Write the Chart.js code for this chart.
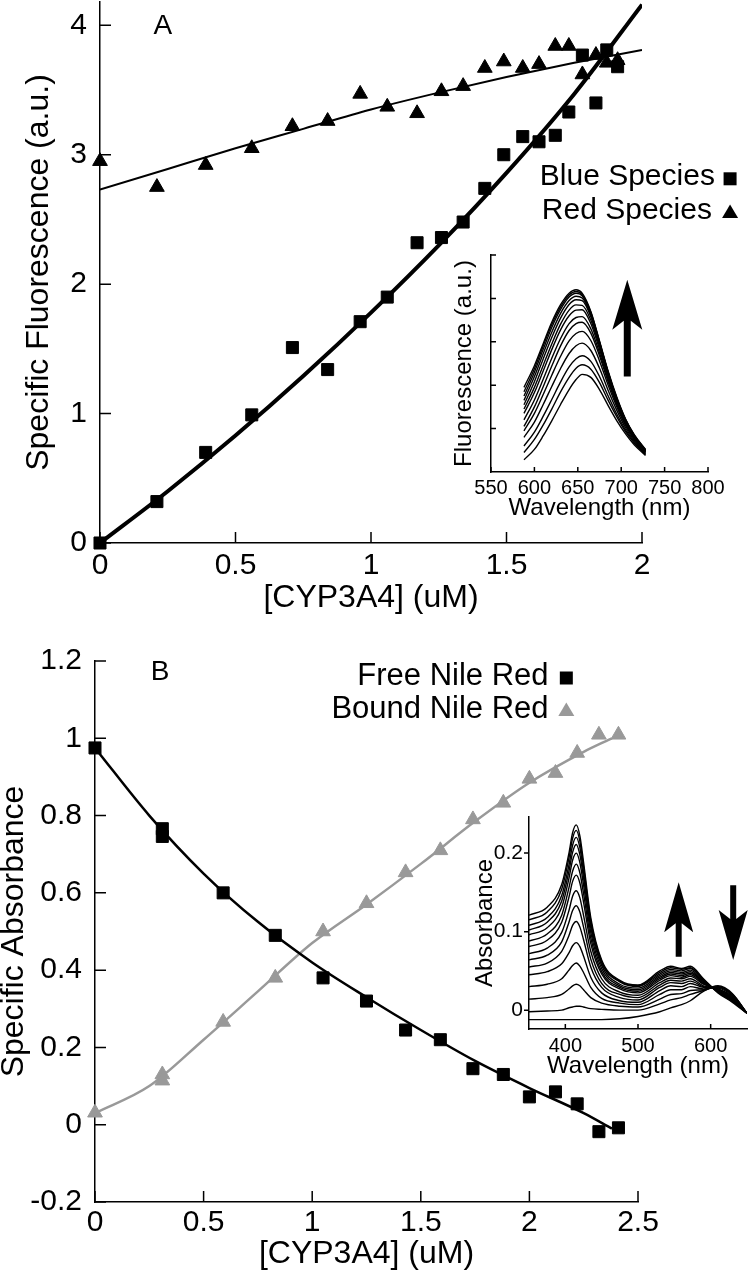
<!DOCTYPE html>
<html lang="en">
<head>
  <meta charset="UTF-8">
  <title>CYP3A4 / Nile Red titration</title>
  <script src="https://cdn.jsdelivr.net/npm/chart.js"></script>
  <style>
    body { margin: 0; background: #fff; }
    .fig { position: relative; width: 750px; height: 1277px; overflow: hidden; background: #fff; }
    .fig canvas { position: absolute; }
  </style>
</head>
<body>
  <div class="fig">
    <canvas id="mainA" width="750" height="660" style="left:0;top:-40px;width:750px;height:660px"></canvas>
    <canvas id="insetA" width="330" height="300" style="left:420px;top:230px;width:330px;height:300px"></canvas>
    <canvas id="mainB" width="756" height="677" style="left:-6px;top:600px;width:756px;height:677px"></canvas>
    <canvas id="insetB" width="310" height="310" style="left:440px;top:790px;width:310px;height:310px"></canvas>
  </div>

  <script>
    const FONT = "'Liberation Sans', Arial, Helvetica, sans-serif";

    // ---- Panel A: specific fluorescence vs [CYP3A4]
    const cypA = [0, 0.21, 0.39, 0.56, 0.71, 0.84, 0.96, 1.06, 1.17, 1.26, 1.34, 1.42, 1.49, 1.56, 1.62, 1.68, 1.73, 1.78, 1.83, 1.87, 1.91];
    const blueSpecies = [0, 0.32, 0.70, 0.99, 1.51, 1.34, 1.71, 1.90, 2.32, 2.36, 2.48, 2.74, 3.00, 3.14, 3.10, 3.15, 3.33, 3.77, 3.40, 3.81, 3.68];
    const redSpecies = [2.95, 2.75, 2.92, 3.05, 3.22, 3.26, 3.47, 3.37, 3.32, 3.49, 3.53, 3.67, 3.72, 3.67, 3.70, 3.84, 3.84, 3.62, 3.77, 3.71, 3.73];
    const fitXA = [0, 0.25, 0.5, 0.75, 1, 1.25, 1.5, 1.75, 2];
    const blueFit = [0, 0.40, 0.83, 1.29, 1.78, 2.30, 2.86, 3.47, 4.16];
    const redFit = [2.73, 2.89, 3.05, 3.20, 3.35, 3.48, 3.60, 3.71, 3.81];
    const ticksAX = [0, 0.5, 1, 1.5, 2];
    const ticksAY = [0, 1, 2, 3, 4];

    // inset A: emission spectra
    const fluorWl = [588, 600, 610, 620, 630, 640, 648, 655, 665, 675, 685, 695, 705, 715, 728];
    const fluorSpectra = [
      [1.95, 2.45, 2.95, 3.45, 3.85, 4.12, 4.20, 4.12, 3.70, 3.02, 2.32, 1.72, 1.22, 0.86, 0.52],
      [1.85, 2.38, 2.90, 3.40, 3.80, 4.08, 4.16, 4.09, 3.68, 3.00, 2.30, 1.70, 1.21, 0.85, 0.51],
      [1.75, 2.30, 2.82, 3.33, 3.74, 4.03, 4.12, 4.06, 3.66, 2.99, 2.29, 1.69, 1.20, 0.84, 0.50],
      [1.65, 2.20, 2.72, 3.22, 3.65, 3.95, 4.05, 4.01, 3.62, 2.97, 2.28, 1.68, 1.19, 0.83, 0.50],
      [1.55, 2.08, 2.60, 3.10, 3.54, 3.86, 3.97, 3.95, 3.58, 2.94, 2.26, 1.66, 1.18, 0.82, 0.49],
      [1.45, 1.95, 2.45, 2.95, 3.40, 3.73, 3.85, 3.84, 3.50, 2.89, 2.22, 1.64, 1.16, 0.81, 0.49],
      [1.35, 1.83, 2.32, 2.82, 3.27, 3.60, 3.73, 3.74, 3.42, 2.83, 2.18, 1.61, 1.14, 0.80, 0.48],
      [1.20, 1.66, 2.13, 2.62, 3.07, 3.42, 3.56, 3.58, 3.30, 2.75, 2.13, 1.58, 1.12, 0.79, 0.47],
      [1.05, 1.50, 1.96, 2.44, 2.90, 3.26, 3.42, 3.45, 3.20, 2.68, 2.08, 1.55, 1.10, 0.78, 0.46],
      [0.95, 1.35, 1.78, 2.23, 2.66, 3.02, 3.19, 3.24, 3.03, 2.56, 2.00, 1.50, 1.07, 0.76, 0.45],
      [0.80, 1.15, 1.55, 1.97, 2.38, 2.73, 2.91, 2.97, 2.80, 2.39, 1.88, 1.42, 1.02, 0.73, 0.43],
      [0.60, 0.92, 1.28, 1.67, 2.07, 2.42, 2.61, 2.68, 2.55, 2.20, 1.75, 1.33, 0.97, 0.70, 0.42],
      [0.45, 0.75, 1.08, 1.45, 1.84, 2.18, 2.39, 2.47, 2.37, 2.06, 1.65, 1.27, 0.93, 0.67, 0.40],
      [0.28, 0.52, 0.83, 1.18, 1.55, 1.90, 2.13, 2.25, 2.18, 1.90, 1.53, 1.18, 0.88, 0.63, 0.38]
    ];
    const ticksInAX = [550, 600, 650, 700, 750, 800];
    const ticksInAY = [1, 2, 3, 4, 5];

    // ---- Panel B: specific absorbance vs [CYP3A4]
    const cypB = [0, 0.31, 0.31, 0.59, 0.83, 1.05, 1.25, 1.43, 1.59, 1.74, 1.88, 2.00, 2.12, 2.22, 2.32, 2.41];
    const freeNileRed = [0.975, 0.766, 0.746, 0.60, 0.49, 0.38, 0.32, 0.245, 0.22, 0.145, 0.13, 0.072, 0.085, 0.054, -0.018, -0.008];
    const boundNileRed = [0.031, 0.13, 0.114, 0.266, 0.38, 0.50, 0.573, 0.653, 0.71, 0.79, 0.833, 0.895, 0.91, 0.962, 1.009, 1.009];
    const fitXB = [0, 0.25, 0.5, 0.75, 1, 1.25, 1.5, 1.75, 2, 2.25, 2.38];
    const freeFit = [0.975, 0.80, 0.65, 0.525, 0.42, 0.33, 0.245, 0.165, 0.095, 0.03, -0.01];
    const boundFit = [0.03, 0.10, 0.22, 0.345, 0.47, 0.57, 0.675, 0.785, 0.885, 0.965, 1.0];
    const ticksBX = [0, 0.5, 1, 1.5, 2, 2.5];
    const ticksBY = [-0.2, 0, 0.2, 0.4, 0.6, 0.8, 1, 1.2];

    // inset B: absorbance spectra
    const absWl = [350, 375, 395, 405, 410, 415, 420, 425, 435, 450, 475, 500, 530, 545, 560, 572, 590, 610, 630, 650];
    const absSpectra = [
      [0.121, 0.131, 0.160, 0.200, 0.226, 0.236, 0.222, 0.189, 0.118, 0.064, 0.038, 0.032, 0.050, 0.056, 0.053, 0.056, 0.040, 0.022, 0.010, -0.004],
      [0.115, 0.125, 0.154, 0.194, 0.219, 0.229, 0.215, 0.183, 0.114, 0.062, 0.037, 0.031, 0.048, 0.054, 0.052, 0.054, 0.039, 0.023, 0.011, -0.004],
      [0.108, 0.118, 0.146, 0.185, 0.210, 0.220, 0.207, 0.176, 0.110, 0.060, 0.036, 0.030, 0.046, 0.052, 0.050, 0.053, 0.038, 0.023, 0.012, -0.004],
      [0.102, 0.112, 0.139, 0.177, 0.201, 0.211, 0.198, 0.169, 0.105, 0.057, 0.033, 0.028, 0.044, 0.050, 0.048, 0.051, 0.037, 0.024, 0.012, -0.004],
      [0.096, 0.105, 0.131, 0.168, 0.191, 0.200, 0.188, 0.160, 0.099, 0.053, 0.031, 0.026, 0.042, 0.048, 0.046, 0.049, 0.036, 0.024, 0.013, -0.004],
      [0.088, 0.097, 0.121, 0.156, 0.177, 0.186, 0.175, 0.149, 0.092, 0.049, 0.029, 0.024, 0.040, 0.046, 0.044, 0.047, 0.035, 0.025, 0.014, -0.004],
      [0.081, 0.089, 0.112, 0.144, 0.164, 0.172, 0.162, 0.138, 0.085, 0.046, 0.027, 0.022, 0.038, 0.044, 0.042, 0.045, 0.034, 0.025, 0.014, -0.004],
      [0.072, 0.079, 0.099, 0.127, 0.145, 0.152, 0.143, 0.121, 0.075, 0.040, 0.023, 0.019, 0.035, 0.041, 0.040, 0.043, 0.033, 0.026, 0.015, -0.004],
      [0.064, 0.070, 0.087, 0.112, 0.127, 0.133, 0.125, 0.106, 0.065, 0.034, 0.020, 0.016, 0.032, 0.038, 0.037, 0.040, 0.031, 0.027, 0.016, -0.004],
      [0.055, 0.060, 0.075, 0.095, 0.108, 0.113, 0.106, 0.090, 0.055, 0.029, 0.016, 0.013, 0.029, 0.035, 0.034, 0.037, 0.030, 0.027, 0.017, -0.004],
      [0.045, 0.049, 0.059, 0.073, 0.082, 0.086, 0.081, 0.069, 0.042, 0.022, 0.012, 0.010, 0.025, 0.031, 0.030, 0.034, 0.029, 0.028, 0.018, -0.004],
      [0.030, 0.033, 0.040, 0.051, 0.057, 0.060, 0.056, 0.048, 0.029, 0.015, 0.009, 0.007, 0.020, 0.026, 0.026, 0.030, 0.027, 0.029, 0.019, -0.004],
      [0.014, 0.016, 0.020, 0.027, 0.031, 0.033, 0.031, 0.026, 0.016, 0.009, 0.005, 0.004, 0.014, 0.020, 0.021, 0.025, 0.026, 0.030, 0.020, -0.004],
      [-0.002, -0.001, 0.000, 0.003, 0.004, 0.005, 0.005, 0.004, 0.002, 0.001, 0.000, 0.000, 0.008, 0.013, 0.016, 0.020, 0.025, 0.030, 0.020, -0.004],
      [-0.012, -0.012, -0.012, -0.012, -0.012, -0.012, -0.012, -0.012, -0.012, -0.012, -0.011, -0.008, -0.002, 0.003, 0.007, 0.012, 0.024, 0.031, 0.021, -0.004]
    ];
    const ticksInBX = [400, 500, 600];
    const ticksInBY = [0, 0.1, 0.2];

    Chart.defaults.font.family = FONT;
    Chart.defaults.color = '#000';
    Chart.defaults.animation = false;

    function pts(xs, ys) {
      return xs.map((x, i) => ({ x: x, y: ys[i] }));
    }

    function curve(xs, ys, color, width) {
      return {
        data: pts(xs, ys), showLine: true, borderColor: color, borderWidth: width,
        pointRadius: 0, cubicInterpolationMode: 'monotone', fill: false
      };
    }

    function dots(xs, ys, style, color, r) {
      return {
        data: pts(xs, ys), showLine: false, pointStyle: style, pointRadius: r,
        backgroundColor: color, borderColor: color, borderWidth: 1, clip: false
      };
    }

    // one linear axis, sized by hand so the plot areas line up with the figure
    function axis(o) {
      return {
        type: 'linear',
        position: o.pos,
        min: o.min,
        max: o.max,
        grid: { display: false, drawTicks: false },
        border: { display: true, color: '#000', width: 1.5 },
        afterBuildTicks: s => { s.ticks = o.ticks.map(v => ({ value: v })); },
        afterFit: s => { if (o.pos === 'left') s.width = o.size; else s.height = o.size; },
        ticks: {
          display: o.labels !== false,
          font: { size: o.tickSize },
          padding: o.tickPad,
          color: '#000',
          maxRotation: 0,
          autoSkip: false,
          callback: v => String(v)
        },
        title: { display: true, text: o.title, color: '#000', font: { size: o.titleSize }, padding: o.titlePad }
      };
    }

    // short tick marks drawn from the axis lines
    const tickMarks = {
      id: 'tickMarks',
      afterDraw(chart, args, o) {
        const { ctx, chartArea: a, scales: { x, y } } = chart;
        ctx.save();
        ctx.strokeStyle = '#000';
        ctx.lineWidth = 1.5;
        ctx.beginPath();
        x.ticks.forEach(t => {
          const px = x.getPixelForValue(t.value);
          ctx.moveTo(px, a.bottom);
          ctx.lineTo(px, a.bottom - o.x);
        });
        y.ticks.forEach(t => {
          const py = y.getPixelForValue(t.value);
          ctx.moveTo(a.left, py);
          ctx.lineTo(a.left + o.y, py);
        });
        ctx.stroke();
        ctx.restore();
      }
    };

    function marker(ctx, shape, px, py, s, color) {
      ctx.fillStyle = color;
      ctx.beginPath();
      if (shape === 'rect') {
        ctx.rect(px - s / 2, py - s / 2, s, s);
      } else {
        ctx.moveTo(px, py - s * 0.45);
        ctx.lineTo(px + s / 2, py + s * 0.4);
        ctx.lineTo(px - s / 2, py + s * 0.4);
        ctx.closePath();
      }
      ctx.fill();
    }

    function arrow(ctx, px, y0, y1, head, hw, sw) {
      const d = y1 < y0 ? 1 : -1;   // 1 = pointing up
      const hb = y1 + d * head;
      const notch = hb - d * 9;
      ctx.fillStyle = '#000';
      ctx.beginPath();
      ctx.moveTo(px - sw / 2, y0);
      ctx.lineTo(px - sw / 2, notch);
      ctx.lineTo(px - hw / 2, hb);
      ctx.lineTo(px, y1);
      ctx.lineTo(px + hw / 2, hb);
      ctx.lineTo(px + sw / 2, notch);
      ctx.lineTo(px + sw / 2, y0);
      ctx.closePath();
      ctx.fill();
    }

    // panel letters, legends and arrows, placed in data units
    const notes = {
      id: 'notes',
      afterDraw(chart, args, o) {
        const { ctx, scales: { x, y } } = chart;
        ctx.save();
        ctx.textBaseline = 'middle';
        (o.texts || []).forEach(t => {
          ctx.font = t.size + 'px ' + FONT;
          ctx.fillStyle = '#000';
          ctx.textAlign = t.align;
          ctx.fillText(t.text, x.getPixelForValue(t.x), y.getPixelForValue(t.y));
        });
        (o.marks || []).forEach(m => {
          marker(ctx, m.shape, x.getPixelForValue(m.x), y.getPixelForValue(m.y), m.size, m.color);
        });
        (o.arrows || []).forEach(a => {
          arrow(ctx, x.getPixelForValue(a.x), y.getPixelForValue(a.from), y.getPixelForValue(a.to), a.head, a.hw, a.sw);
        });
        ctx.restore();
      }
    };

    const quiet = { legend: { display: false }, tooltip: { enabled: false } };

    // Panel A main plot
    new Chart(document.getElementById('mainA'), {
      type: 'scatter',
      data: {
        datasets: [
          dots(cypA, blueSpecies, 'rect', '#000', 8.5),
          dots(cypA, redSpecies, 'triangle', '#000', 8.5),
          curve(fitXA, blueFit, '#000', 4),
          curve(fitXA, redFit, '#000', 2)
        ]
      },
      options: {
        responsive: false,
        layout: { padding: { left: 0, right: 108, top: 42, bottom: 0 } },
        plugins: {
          ...quiet,
          tickMarks: { x: 11, y: 11 },
          notes: {
            texts: [
              { text: 'A', x: 0.232, y: 3.99, size: 28, align: 'center' },
              { text: 'Blue Species', x: 2.269, y: 2.83, size: 30, align: 'right' },
              { text: 'Red Species', x: 2.258, y: 2.566, size: 30, align: 'right' }
            ],
            marks: [
              { shape: 'rect', x: 2.325, y: 2.814, size: 13, color: '#000' },
              { shape: 'tri', x: 2.325, y: 2.56, size: 16, color: '#000' }
            ]
          }
        },
        scales: {
          x: axis({ pos: 'bottom', min: 0, max: 2, ticks: ticksAX, size: 77, tickSize: 30, tickPad: 5,
                    title: '[CYP3A4] (uM)', titleSize: 32, titlePad: { top: 0, bottom: 3 } }),
          y: axis({ pos: 'left', min: 0, max: 4.18, ticks: ticksAY, size: 100, tickSize: 30, tickPad: 13,
                    title: 'Specific Fluorescence (a.u.)', titleSize: 32, titlePad: { top: 20, bottom: 0 } })
        }
      },
      plugins: [tickMarks, notes]
    });

    // Panel A inset
    new Chart(document.getElementById('insetA'), {
      type: 'scatter',
      data: { datasets: fluorSpectra.map(s => curve(fluorWl, s, '#000', 1.4)) },
      options: {
        responsive: false,
        layout: { padding: { left: 0, right: 42, top: 25, bottom: 0 } },
        plugins: {
          ...quiet,
          tickMarks: { x: 5, y: 5 },
          notes: { arrows: [{ x: 707, from: 2.2, to: 4.43, head: 50, hw: 30, sw: 7 }] }
        },
        scales: {
          x: axis({ pos: 'bottom', min: 550, max: 800, ticks: ticksInAX, size: 58, tickSize: 20, tickPad: 4,
                    title: 'Wavelength (nm)', titleSize: 24, titlePad: { top: 0, bottom: 7 } }),
          y: axis({ pos: 'left', min: 0, max: 5, ticks: ticksInAY, size: 71, labels: false, tickSize: 20, tickPad: 4,
                    title: 'Fluorescence (a.u.)', titleSize: 24, titlePad: { top: 30, bottom: 0 } })
        }
      },
      plugins: [tickMarks, notes]
    });

    // Panel B main plot
    new Chart(document.getElementById('mainB'), {
      type: 'scatter',
      data: {
        datasets: [
          dots(cypB, freeNileRed, 'rect', '#000', 8.5),
          dots(cypB, boundNileRed, 'triangle', '#999', 8.5),
          curve(fitXB, freeFit, '#000', 2.5),
          curve(fitXB, boundFit, '#999', 2.5)
        ]
      },
      options: {
        responsive: false,
        layout: { padding: { left: 0, right: 112, top: 61, bottom: 0 } },
        plugins: {
          ...quiet,
          tickMarks: { x: 11, y: 11 },
          notes: {
            texts: [
              { text: 'B', x: 0.30, y: 1.172, size: 28, align: 'center' },
              { text: 'Free Nile Red', x: 2.088, y: 1.159, size: 31, align: 'right' },
              { text: 'Bound Nile Red', x: 2.088, y: 1.074, size: 31, align: 'right' }
            ],
            marks: [
              { shape: 'rect', x: 2.17, y: 1.156, size: 13, color: '#000' },
              { shape: 'tri', x: 2.17, y: 1.074, size: 16, color: '#999' }
            ]
          }
        },
        scales: {
          x: axis({ pos: 'bottom', min: 0, max: 2.5, ticks: ticksBX, size: 75, tickSize: 30, tickPad: 3,
                    title: '[CYP3A4] (uM)', titleSize: 32, titlePad: { top: 0, bottom: 4 } }),
          y: axis({ pos: 'left', min: -0.2, max: 1.2, ticks: ticksBY, size: 101, tickSize: 30, tickPad: 13,
                    title: 'Specific Absorbance', titleSize: 32, titlePad: { top: 1, bottom: 0 } })
        }
      },
      plugins: [tickMarks, notes]
    });

    // Panel B inset
    new Chart(document.getElementById('insetB'), {
      type: 'scatter',
      data: { datasets: absSpectra.map(s => curve(absWl, s, '#000', 1.4)) },
      options: {
        responsive: false,
        layout: { padding: { left: 0, right: 3, top: 27, bottom: 0 } },
        plugins: {
          ...quiet,
          tickMarks: { x: 5, y: -5 },
          notes: {
            arrows: [
              { x: 556, from: 0.068, to: 0.163, head: 50, hw: 29, sw: 6 },
              { x: 631, from: 0.159, to: 0.064, head: 50, hw: 29, sw: 6 }
            ]
          }
        },
        scales: {
          x: axis({ pos: 'bottom', min: 350, max: 650, ticks: ticksInBX, size: 71, tickSize: 20, tickPad: 5,
                    title: 'Wavelength (nm)', titleSize: 24, titlePad: { top: 0, bottom: 19 } }),
          y: axis({ pos: 'left', min: -0.024, max: 0.246, ticks: ticksInBY, size: 89, tickSize: 21, tickPad: 6,
                    title: 'Absorbance', titleSize: 24, titlePad: { top: 31, bottom: 0 } })
        }
      },
      plugins: [tickMarks, notes]
    });
  </script>
</body>
</html>
